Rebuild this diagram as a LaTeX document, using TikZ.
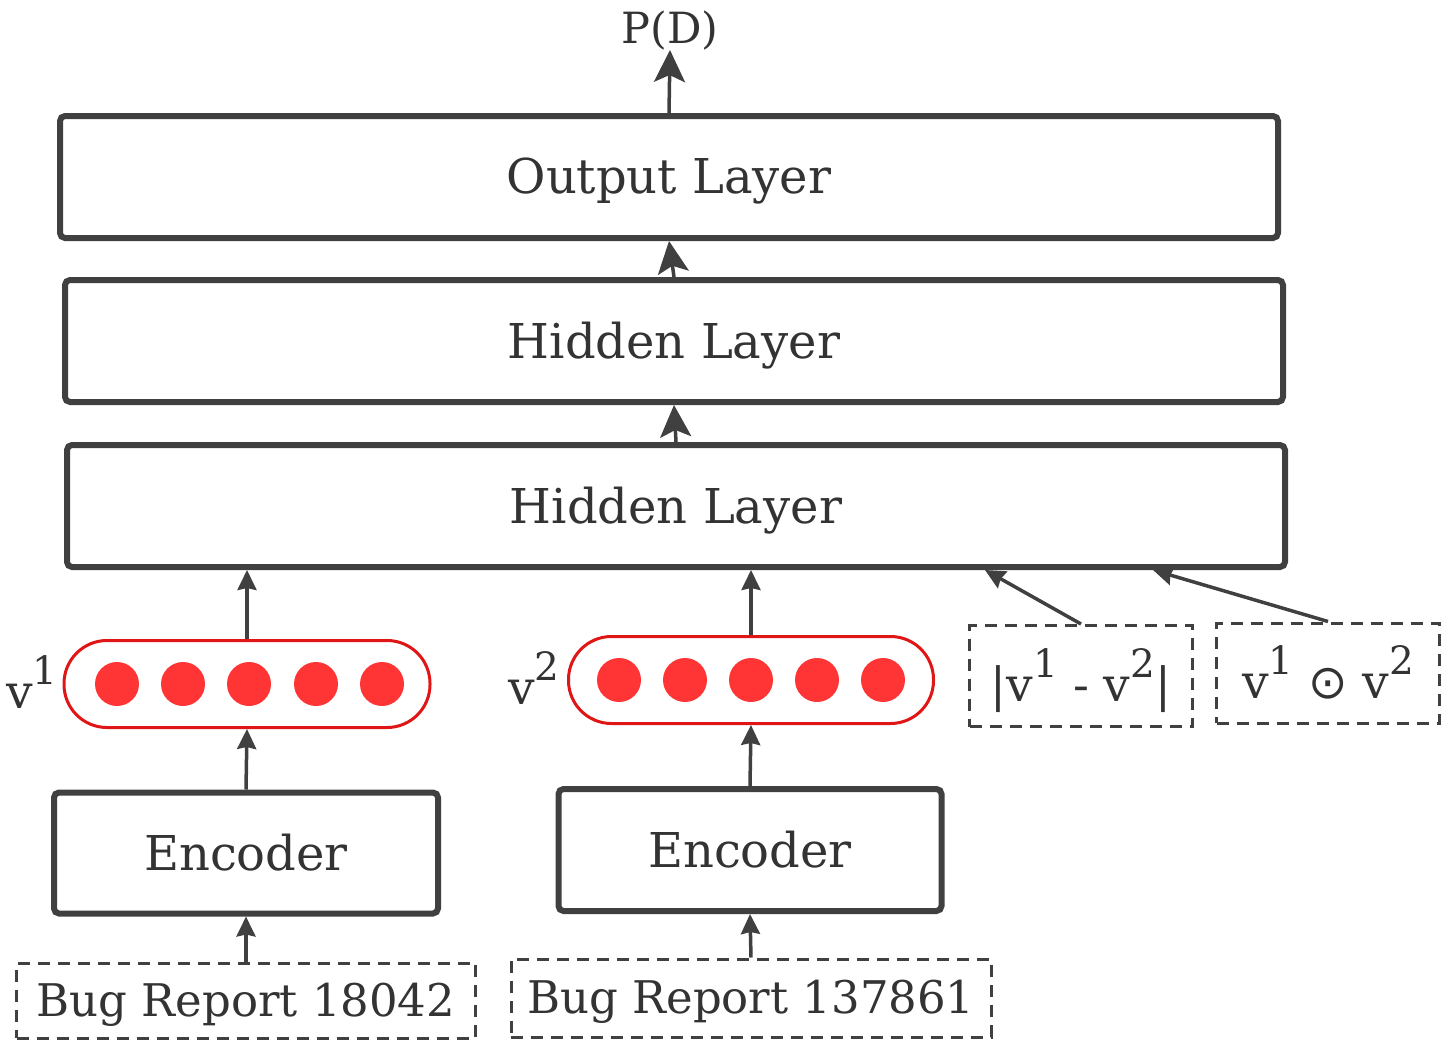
\documentclass[tikz,border=0pt]{standalone}
\usepackage{fontspec}
\setmainfont{DejaVu Serif}
\newfontfamily\symbolfont{DejaVu Sans}
\usetikzlibrary{arrows.meta}
\definecolor{dk}{HTML}{404040}
\definecolor{txt}{HTML}{333333}
\definecolor{redline}{HTML}{E01515}
\definecolor{reddot}{HTML}{FF3434}
\newcommand{\sups}[1]{\raisebox{0.52em}{\fontsize{39}{40}\selectfont #1}}
\tikzset{
  layer/.style={draw=dk, line width=6pt, rounded corners=5pt, fill=white,
    text=txt, font=\fontsize{48}{56}\selectfont, text depth=2pt},
  vecbox/.style={draw=redline, line width=3pt, rounded corners=43pt, inner sep=0pt},
  unit/.style={circle, fill=reddot, minimum size=44pt, inner sep=0pt},
  dbox/.style={draw=dk, dash pattern=on 12pt off 8pt, line width=3pt,
    text=txt, font=\fontsize{45}{54}\selectfont, text depth=2pt},
  arr/.style={draw=dk, line width=3.5pt, -{Stealth[length=32pt,width=31pt,inset=7pt]}},
  sarr/.style={draw=dk, line width=3.5pt, -{Stealth[length=20pt,width=19pt,inset=2pt]}},
  lbl/.style={text=txt, font=\fontsize{47}{56}\selectfont, inner sep=0pt},
}
\begin{document}
\begin{tikzpicture}[x=1pt, y=-1pt]
\useasboundingbox (0,0) rectangle (1441,1041);

% stacked layers
\node[layer, minimum width=1218pt, minimum height=122pt] (out) at (669,177) {Output Layer};
\node[layer, minimum width=1218pt, minimum height=122pt] (h1) at (674,341) {Hidden Layer};
\node[layer, minimum width=1218pt, minimum height=122pt] (h2) at (676,506) {Hidden Layer};

% output label
\node[lbl, font=\fontsize{43}{50}\selectfont, anchor=south] (pd) at (670,50) {P(D)};

% two encoder branches
\node[vecbox, minimum width=366pt, minimum height=87pt] (vb1) at (247,684) {};
\node[vecbox, minimum width=365pt, minimum height=87pt] (vb2) at (751,680) {};
\foreach \x [count=\i] in {117,183,249,316,382} \node[unit] (a\i) at (\x,684) {};
\foreach \x [count=\i] in {619,685,751,817,883} \node[unit] (b\i) at (\x,680) {};
\node[lbl, anchor=east] (l1) at (58,682) {v\sups{1}};
\node[lbl, anchor=east] (l2) at (560,678) {v\sups{2}};

\node[layer, minimum width=384pt, minimum height=121pt] (e1) at (246,853) {Encoder};
\node[layer, minimum width=383pt, minimum height=122pt] (e2) at (750,850) {Encoder};

\node[dbox, minimum width=459pt, minimum height=75pt] (r1) at (246,1000.5) {Bug Report 18042};
\node[dbox, minimum width=480pt, minimum height=78pt] (r2) at (751,998) {Bug Report 137861};

% combined features
\node[dbox, font=\fontsize{47}{56}\selectfont, minimum width=223pt, minimum height=101pt] (d1) at (1081,676) {|v\sups{1} - v\sups{2}|};
\node[dbox, font=\fontsize{47}{56}\selectfont, minimum width=223pt, minimum height=100pt] (d2) at (1328,673) {v\sups{1} {\symbolfont ⊙} v\sups{2}};

\coordinate (t1) at (985,570);
\coordinate (t2) at (1153,570);

% connectors
\draw[arr] (out.north) -- (pd.south);
\draw[arr] (h1.north) -- (out.south);
\draw[arr] (h2.north) -- (h1.south);
\draw[sarr] (vb1.north) -- (vb1.north |- h2.south);
\draw[sarr] (vb2.north) -- (vb2.north |- h2.south);
\draw[sarr] (e1.north) -- (vb1.south);
\draw[sarr] (e2.north) -- (vb2.south);
\draw[sarr] (r1.north) -- (e1.south);
\draw[sarr] (r2.north) -- (e2.south);
\draw[sarr] (d1.north) -- (t1);
\draw[sarr] (d2.north) -- (t2);
\end{tikzpicture}
\end{document}
